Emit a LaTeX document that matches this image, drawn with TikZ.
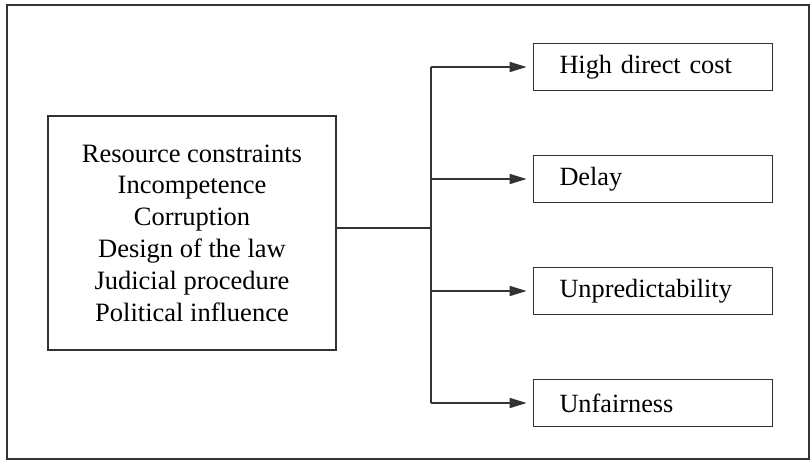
\documentclass[tikz,border=0pt]{standalone}
\usepackage{fontspec}
\setmainfont{Liberation Serif}
\usepackage{tikz}
\usetikzlibrary{arrows.meta}
\usetikzlibrary{positioning}

\begin{document}
\begin{tikzpicture}[x=1pt, y=-1pt]
			\tikzset{box/.style={shape = rectangle, draw = black!80, line width = 1.8pt}}
			\tikzset{cause/.style={box, minimum width = 288pt, minimum height = 234pt, align = center,
					font = \fontsize{26.5}{31.8}\selectfont}}
			\tikzset{effect/.style={box, minimum height = 47pt, text width = 187pt, inner xsep = 26pt,
					align = left, font = \fontsize{26.3}{30}\selectfont}}
			\tikzset{link/.style={draw = black!80, line width = 1.8pt}}
			\tikzset{arr/.style={link, -{Triangle[length = 17pt, width = 10pt]}, shorten > = 6pt}}
			\useasboundingbox (0, 0) rectangle (812, 462);
			%frame
			\draw[link] (7, 5) rectangle (809, 459);
			%vertices
			\node[cause] (causes) at (192, 233) {Resource constraints\\ Incompetence\\ Corruption\\
				Design of the law\\ Judicial procedure\\ Political influence};
			\node[effect] (cost) at (653, 67) {High direct cost};
			\node[effect] (delay) at (653, 179) {Delay};
			\node[effect] (unpred) at (653, 291) {Unpredictability};
			\node[effect] (unfair) at (653, 403) {Unfairness};
			\coordinate (j) at (431, 228);
			%edges
			\draw[link] (causes.east |- j) -- (j);
			\draw[link] (j |- cost) -- (j |- unfair);
			\draw[arr] (j |- cost) -- (cost);
			\draw[arr] (j |- delay) -- (delay);
			\draw[arr] (j |- unpred) -- (unpred);
			\draw[arr] (j |- unfair) -- (unfair);
\end{tikzpicture}
\end{document}
